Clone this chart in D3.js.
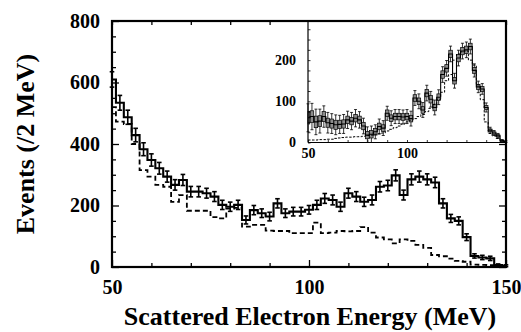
<!DOCTYPE html>
<html><head><meta charset="utf-8">
<script src="https://cdn.jsdelivr.net/npm/d3@7"></script>
<style>
body{margin:0;background:#fff}
svg{display:block}
text{font-family:"Liberation Serif","Times New Roman",serif;font-weight:bold;fill:#000}
</style>
</head><body><svg id="c" width="521" height="332"></svg>
<script>
// ---- data ----
const binCenters = [50,52,54,56,58,60,62,64,66,68,70,72,74,76,78,80,82,84,86,88,90,92,94,96,98,100,102,104,106,108,110,112,114,116,118,120,122,124,126,128,130,132,134,136,138,140,142,144,146,148,150];
const mainSignal = [610,534,487,429,383,348,321,294,267,283,245,245,240,229,202,196,202,153,185,175,164,207,175,180,180,186,202,223,218,196,240,229,212,218,261,265,298,234,285,294,285,275,207,158,150,97,36,31,28,6,4];
const mainErr = [25,24,23,22,21,20,19,18,17,18,17,17,16,16,15,15,15,13,15,14,14,15,14,14,14,14,15,16,16,15,16,16,15,16,17,17,18,16,18,18,18,17,15,13,13,11,7,7,7,4,3];
const mainBackground = [520,473,465,400,315,294,267,261,212,234,183,183,183,162,158,190,192,131,137,137,118,117,117,110,110,110,144,110,112,117,116,117,130,112,96,90,77,90,85,72,62,39,35,27,20,17,8,7,6,4,2];
const insetData = [60,63,50,52,63,48,46,43,44,45,55,52,59,55,40,18,20,26,39,35,71,59,63,63,62,63,58,108,100,79,120,105,85,110,165,180,215,150,205,222,225,233,175,135,130,85,30,23,16,4,2];
const insetErr = [34,32,31,29,26,25,24,24,22,23,21,21,21,20,19,20,20,17,18,18,17,18,17,17,17,17,18,18,18,18,19,19,18,18,19,19,19,18,19,19,19,18,16,14,13,11,7,6,6,3,2];
const insetBox = [15,14,14,13,12,11,11,11,10,10,9,9,9,9,9,9,9,8,8,8,8,8,8,8,8,8,8,8,8,8,9,9,8,8,9,9,9,8,9,9,9,8,7,6,6,5,3,3,3,2,1];
const insetMC = [6,6,6,7,7,8,8,10,11,12,13,13,14,14,15,17,18,20,21,23,28,32,36,40,45,50,54,58,63,68,75,83,92,105,122,150,165,200,215,220,222,200,188,140,104,50,22,16,10,5,2];

const mainXTickVals = [50,60,70,80,90,100,110,120,130,140,150];
const mainXLabels = [50,100,150];
const mainYTickVals = [0,50,100,150,200,250,300,350,400,450,500,550,600,650,700,750,800];
const mainYLabels = [0,200,400,600,800];
const insetXTickVals = [50,60,70,80,90,100,110,120,130,140,150];
const insetXLabels = [50,100];
const insetYTickVals = [0,25,50,75,100,125,150,175,200,225,250,275];
const insetYLabels = [0,100,200];

const svg = d3.select("#c");
const xMin = 50, xMax = 150;

// ---- scales ----
const x = d3.scaleLinear().domain([50,150]).range([112,506]);
const y = d3.scaleLinear().domain([0,800]).range([267,21]);
const ix = d3.scaleLinear().domain([50,150]).range([308,506]);
const iy = d3.scaleLinear().domain([0,295]).range([142.5,21]);

function stepPoints(vals){
  const pts=[];
  binCenters.forEach((c,i)=>{
    const lo=Math.max(c-1,xMin), hi=Math.min(c+1,xMax);
    pts.push([lo,vals[i]]); pts.push([hi,vals[i]]);
  });
  return pts;
}

// ---- main plot ----
const mainLine = d3.line().x(d=>x(d[0])).y(d=>y(d[1]));
svg.append("path").attr("d",mainLine(stepPoints(mainBackground)))
  .attr("fill","none").attr("stroke","#000").attr("stroke-width",1.8).attr("stroke-dasharray","5,3");
svg.append("path").attr("d",mainLine(stepPoints(mainSignal)))
  .attr("fill","none").attr("stroke","#000").attr("stroke-width",2.1);
const eb = svg.append("g").attr("stroke","#000").attr("stroke-width",1.6);
binCenters.forEach((c,i)=>{
  const cx=x(c), y1=y(mainSignal[i]-mainErr[i]), y2=y(mainSignal[i]+mainErr[i]);
  eb.append("line").attr("x1",cx).attr("x2",cx).attr("y1",y1).attr("y2",y2);
  eb.append("line").attr("x1",cx-2.3).attr("x2",cx+2.3).attr("y1",y1).attr("y2",y1);
  eb.append("line").attr("x1",cx-2.3).attr("x2",cx+2.3).attr("y1",y2).attr("y2",y2);
});

// main axes
function styleAxis(g){
  g.select(".domain").remove();
  g.selectAll(".tick line").attr("stroke","#000").attr("stroke-width",1.3);
  g.selectAll(".tick text").style("font-size","20px");
}
const fmtM = labs => d => labs.includes(d) ? d : "";
const gl = svg.append("g").attr("transform","translate(112,0)")
  .call(d3.axisLeft(y).tickValues(mainYTickVals).tickSize(-4).tickPadding(12).tickFormat(fmtM(mainYLabels)));
styleAxis(gl);
gl.selectAll(".tick").filter(d=>mainYLabels.includes(d)).select("line").attr("x2",7);
const gr = svg.append("g").attr("transform","translate(506,0)")
  .call(d3.axisRight(y).tickValues(mainYTickVals).tickSize(-4).tickFormat(""));
styleAxis(gr);
gr.selectAll(".tick").filter(d=>mainYLabels.includes(d)).select("line").attr("x2",-7);
const gb = svg.append("g").attr("transform","translate(0,267)")
  .call(d3.axisBottom(x).tickValues(mainXTickVals).tickSize(-4).tickPadding(13).tickFormat(fmtM(mainXLabels)));
styleAxis(gb);
gb.selectAll(".tick").filter(d=>mainXLabels.includes(d)).select("line").attr("y2",-7);
gb.selectAll(".tick text").attr("dy","0.71em");
const gt = svg.append("g").attr("transform","translate(0,21)")
  .call(d3.axisTop(x).tickValues(mainXTickVals).tickSize(-4).tickFormat(""));
styleAxis(gt);

// ---- inset ----
svg.append("rect").attr("x",ix(50)).attr("y",iy(295)).attr("width",ix(150)-ix(50)).attr("height",iy(0)-iy(295))
  .attr("fill","#fff");
const inLine = d3.line().x(d=>ix(d[0])).y(d=>iy(d[1]));
const ieb = svg.append("g").attr("stroke","#000").attr("stroke-width",0.8);
binCenters.forEach((c,i)=>{
  const cx=ix(c), y1=iy(Math.max(0,insetData[i]-insetErr[i])), y2=iy(insetData[i]+insetErr[i]);
  ieb.append("line").attr("x1",cx).attr("x2",cx).attr("y1",y1).attr("y2",y2);
  ieb.append("line").attr("x1",cx-1.5).attr("x2",cx+1.5).attr("y1",y1).attr("y2",y1);
  ieb.append("line").attr("x1",cx-1.5).attr("x2",cx+1.5).attr("y1",y2).attr("y2",y2);
});
const ibox = svg.append("g");
binCenters.forEach((c,i)=>{
  const lo=Math.max(c-0.9,xMin), hi=Math.min(c+0.9,xMax);
  const yt=iy(insetData[i]+insetBox[i]), yb=iy(Math.max(0,insetData[i]-insetBox[i]));
  ibox.append("rect").attr("x",ix(lo)).attr("y",yt).attr("width",ix(hi)-ix(lo)).attr("height",yb-yt)
    .attr("fill","#8c8c8c").attr("stroke","#000").attr("stroke-width",0.7);
});
svg.append("path").attr("d",inLine(stepPoints(insetMC)))
  .attr("fill","none").attr("stroke","#000").attr("stroke-width",1).attr("stroke-dasharray","2.5,1.5");
svg.append("path").attr("d",inLine(stepPoints(insetData)))
  .attr("fill","none").attr("stroke","#000").attr("stroke-width",1.1);

function styleInset(g){
  g.select(".domain").remove();
  g.selectAll(".tick line").attr("stroke","#000").attr("stroke-width",0.8);
  g.selectAll(".tick text").style("font-size","14px");
}
const il = svg.append("g").attr("transform",`translate(${ix(50)},0)`)
  .call(d3.axisLeft(iy).tickValues(insetYTickVals).tickSize(-2.5).tickPadding(12).tickFormat(fmtM(insetYLabels)));
styleInset(il);
const ib = svg.append("g").attr("transform",`translate(0,${iy(0)})`)
  .call(d3.axisBottom(ix).tickValues(insetXTickVals).tickSize(-2.5).tickPadding(6).tickFormat(fmtM(insetXLabels)));
styleInset(ib);
ib.selectAll(".tick text").attr("dy","0.71em");
svg.append("line").attr("x1",ix(50)).attr("x2",ix(50)).attr("y1",iy(295)).attr("y2",iy(0)).attr("stroke","#000").attr("stroke-width",1.2);
svg.append("line").attr("x1",ix(50)).attr("x2",ix(150)).attr("y1",iy(0)).attr("y2",iy(0)).attr("stroke","#000").attr("stroke-width",1.2);

// main frame on top
svg.append("rect").attr("x",112).attr("y",21).attr("width",394).attr("height",246)
  .attr("fill","none").attr("stroke","#000").attr("stroke-width",2.2);

// ---- titles ----
svg.append("text").attr("x",310).attr("y",325).attr("text-anchor","middle").style("font-size","26px")
  .text("Scattered Electron Energy (MeV)");
svg.append("text").attr("transform","translate(34,144) rotate(-90)").attr("text-anchor","middle").style("font-size","26px")
  .text("Events (/2 MeV)");
</script></body></html>
